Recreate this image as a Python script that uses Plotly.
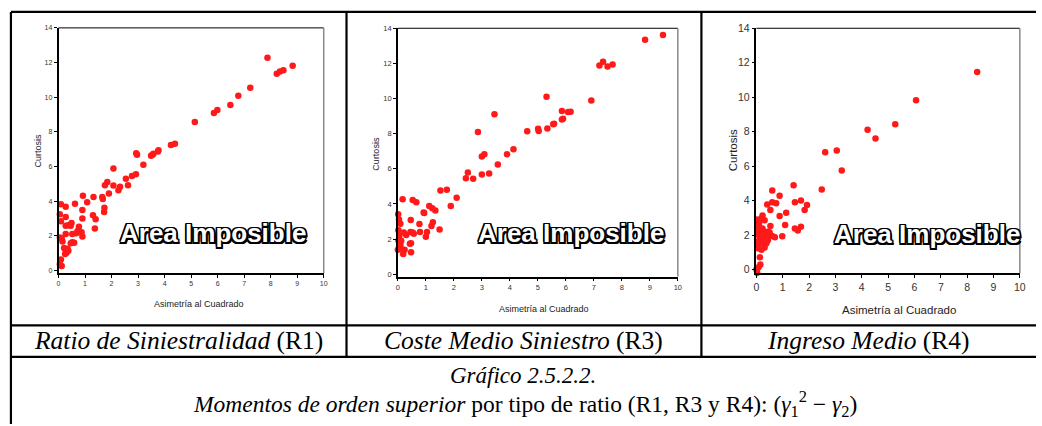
import plotly.graph_objects as go

# ---------------- data ----------------
r1_x = [7.88, 8.23, 8.35, 8.48, 8.83, 7.23, 6.78, 6.48, 5.99, 5.86, 5.14, 4.39, 4.24, 3.75, 3.77,
        3.58, 3.49, 3.54, 2.93, 2.96, 3.20, 2.92, 2.77, 2.54, 2.62, 2.07, 2.07, 2.32, 2.26, 1.90,
        1.84, 1.75, 1.65, 1.67, 1.73, 1.72, 1.32, 1.08, 0.92, 0.90, 1.30, 1.40, 1.37, 0.90, 0.87,
        0.90, 0.62, 0.27, 0.09, 0.05, 0.09, 0.27, 0.27, 0.37, 0.49, 0.46, 0.77, 0.72, 0.67, 0.52,
        0.27, 0.05, 0.12, 0.15, 0.52, 0.59, 0.46, 0.21, 0.27, 0.37, 0.25, 0.30, 0.34, 0.09, 0.12,
        0.05]
r1_y = [12.28, 11.36, 11.49, 11.55, 11.81, 10.55, 10.08, 9.55, 9.26, 9.09, 8.57, 7.32, 7.25, 6.87, 6.94,
        6.74, 6.62, 6.68, 6.77, 6.68, 6.11, 5.55, 5.45, 5.30, 4.92, 5.89, 4.91, 4.83, 4.64, 4.45,
        5.11, 4.92, 4.25, 4.13, 3.62, 3.38, 4.25, 3.94, 4.32, 3.49, 3.19, 2.96, 2.43, 3.00, 2.21,
        1.96, 3.85, 3.68, 3.83, 3.25, 2.85, 3.09, 2.58, 2.62, 2.74, 2.58, 2.53, 2.28, 2.15, 2.11,
        2.11, 1.91, 1.87, 1.68, 1.64, 1.60, 1.58, 1.30, 1.21, 1.15, 0.96, 1.02, 1.26, 0.64, 0.26,
        0.36]

r3_x = [9.47, 8.83, 7.67, 7.49, 7.33, 7.20, 6.91, 6.17, 6.08, 5.86, 5.90, 5.86, 5.58, 5.55, 5.31,
        5.34, 5.01, 5.03, 4.62, 4.13, 3.90, 3.45, 2.86, 3.09, 3.00, 3.57, 3.26, 3.00, 2.50, 2.43,
        2.69, 2.10, 1.75, 1.52, 1.89, 1.49, 1.34, 1.23, 1.12, 1.25, 1.20, 0.92, 0.94, 0.77, 0.79,
        1.04, 1.00, 0.66, 0.53, 0.17, 0.46, 0.45, 0.53, 0.57, 0.47, 0.43, 0.47, 0.30, 0.21, 0.09,
        0.02, 0.01, 0.04, 0.02, 0.06, 0.00, 0.12, 0.19, 0.24, 0.09, 0.12, 0.05]
r3_y = [13.61, 13.35, 11.94, 11.82, 12.10, 11.88, 9.89, 9.25, 9.23, 9.29, 8.85, 8.81, 8.57, 8.53, 10.10,
        8.30, 8.28, 8.15, 8.14, 7.11, 6.83, 9.10, 8.09, 6.83, 6.70, 6.25, 5.73, 5.67, 5.79, 5.46,
        5.43, 4.36, 4.81, 4.77, 3.88, 2.55, 3.63, 3.76, 3.89, 2.96, 2.74, 3.52, 3.48, 2.86, 2.41,
        2.41, 2.13, 4.10, 4.23, 4.27, 3.09, 2.41, 2.37, 2.30, 1.77, 1.73, 1.25, 2.24, 2.37, 2.87,
        2.51, 3.42, 3.11, 1.92, 1.81, 1.40, 1.44, 1.15, 1.40, 1.68, 1.90, 2.18]

r4_x = [8.38, 6.06, 5.27, 4.22, 4.52, 3.05, 2.61, 3.24, 2.48, 1.41, 1.46, 1.69, 1.92, 1.83, 1.69,
        1.57, 1.46, 1.13, 1.09, 0.98, 0.88, 0.75, 0.60, 0.60, 0.41, 0.53, 0.88, 0.53, 0.60, 0.70,
        0.23, 0.19, 0.31, 0.03, 0.10, 0.03, 0.08, 0.13, 0.05, 0.08, 0.19, 0.31, 0.38, 0.44, 0.40,
        0.31, 0.23, 0.25, 0.19, 0.28, 0.15, 0.13, 0.15, 0.08, 0.03, 0.00, 0.34, 0.44, 0.50, 0.06,
        0.04, 0.10]
r4_y = [11.46, 9.83, 8.44, 8.12, 7.61, 6.91, 6.81, 5.75, 4.65, 4.90, 3.91, 4.02, 3.76, 3.47, 2.49,
        2.28, 2.39, 3.30, 2.60, 1.94, 4.29, 3.85, 4.59, 3.91, 3.78, 3.47, 3.11, 2.54, 1.95, 1.88,
        3.15, 2.96, 2.87, 2.91, 2.68, 2.20, 2.01, 1.82, 1.63, 1.44, 1.16, 1.29, 1.54, 1.73, 2.01,
        2.20, 2.39, 2.01, 1.73, 1.54, 2.33, 0.72, 0.30, 0.15, -0.17, 0.02, 1.84, 2.20, 2.16, 1.25,
        2.49, 1.63]

x_ticks = [0, 1, 2, 3, 4, 5, 6, 7, 8, 9, 10]
y_ticks = [0, 2, 4, 6, 8, 10, 12, 14]
x_title = "Asimetría al Cuadrado"
y_title = "Curtosis"
area_label = "Area Imposible"
captions = ["<i>Ratio de Siniestralidad</i> (R1)",
            "<i>Coste Medio Siniestro</i> (R3)",
            "<i>Ingreso Medio</i> (R4)"]
fig_title = "<i>Gráfico 2.5.2.2.</i>"
fig_subtitle = ("<i>Momentos de orden superior</i> por tipo de ratio (R1, R3 y R4): "
                "(<i>γ</i><sub>1</sub><sup>2</sup> − <i>γ</i><sub>2</sub>)")

# ---------------- layout geometry (pixels) ----------------
W, H = 1042, 426
def fx(px): return px / W
def fy(py): return 1 - py / H

panels = [
    dict(x=r1_x, y=r1_y, l=56, r=323.5, t=22.3, b=272.3, ymin=-0.15, tick=7, ttl=9,
         ytx=35, yty=147.5, xtx=198, xty=304, area=(212, 231)),
    dict(x=r3_x, y=r3_y, l=398.3, r=680.7, t=22.7, b=275.7, ymin=-0.13, tick=7.5, ttl=9,
         ytx=376.7, yty=150, xtx=546, xty=309, area=(573, 231)),
    dict(x=r4_x, y=r4_y, l=760, r=1025.7, t=22.7, b=272.3, ymin=-0.2, tick=10.5, ttl=11.5,
         ytx=736, yty=147.5, xtx=904, xty=310, area=(932, 232)),
]

SANS = "Liberation Sans, Arial, sans-serif"
SERIF = "Liberation Serif, Times New Roman, serif"

fig = go.Figure()
annotations = []
shapes = []

outline = ", ".join(f"{dx}px {dy}px 0 #000" for dx, dy in
                    [(-1.5, -1.5), (1.5, -1.5), (-1.5, 1.5), (1.5, 1.5),
                     (0, 1.5), (0, -1.5), (1.5, 0), (-1.5, 0), (2, 2)])

for i, p in enumerate(panels, start=1):
    sfx = "" if i == 1 else str(i)
    fig.add_trace(go.Scatter(
        x=p["x"], y=p["y"], mode="markers", xaxis="x" + sfx, yaxis="y" + sfx,
        marker=dict(size=6.5, color="rgb(255,25,25)", line=dict(width=0)),
        cliponaxis=False, showlegend=False, hoverinfo="skip"))
    common = dict(showgrid=False, zeroline=False, showline=True, linecolor="black",
                  linewidth=1.5, ticks="outside", ticklen=3, tickwidth=1, tickcolor="black",
                  tickfont=dict(family=SANS, size=p["tick"], color="#333"))
    fig.layout["xaxis" + sfx] = dict(
        common, domain=[fx(p["l"]), fx(p["r"])], range=[0, 10], tickvals=x_ticks,
        anchor="y" + sfx)
    fig.layout["yaxis" + sfx] = dict(
        common, domain=[fy(p["b"]), fy(p["t"])], range=[p["ymin"], 14], tickvals=y_ticks,
        anchor="x" + sfx)
    # top (black) and right (gray) frame lines
    shapes.append(dict(type="line", xref=f"x{sfx} domain", yref=f"y{sfx} domain",
                       x0=0, x1=1, y0=1, y1=1, line=dict(color="black", width=1)))
    shapes.append(dict(type="line", xref=f"x{sfx} domain", yref=f"y{sfx} domain",
                       x0=1, x1=1, y0=0, y1=1, line=dict(color="#888", width=1.5)))
    annotations.append(dict(text=y_title, x=fx(p["ytx"]), y=fy(p["yty"]), xref="paper",
                            yref="paper", showarrow=False, textangle=-90,
                            xanchor="center", yanchor="middle",
                            font=dict(family=SANS, size=p["ttl"], color="#222")))
    annotations.append(dict(text=x_title, x=fx(p["xtx"]), y=fy(p["xty"]), xref="paper",
                            yref="paper", showarrow=False, xanchor="center", yanchor="middle",
                            font=dict(family=SANS, size=p["ttl"], color="#222")))
    annotations.append(dict(text="<b>" + area_label + "</b>", x=fx(p["area"][0]),
                            y=fy(p["area"][1]), xref="paper", yref="paper", showarrow=False,
                            xanchor="center", yanchor="middle",
                            font=dict(family=SANS, size=26, color="white", shadow=outline)))

# caption row
cell_centres = [177, 525.5, 873]
for txt, cx in zip(captions, cell_centres):
    annotations.append(dict(text=txt, x=fx(cx), y=fy(341), xref="paper", yref="paper",
                            showarrow=False, xanchor="center", yanchor="middle",
                            font=dict(family=SERIF, size=25.5, color="black")))
annotations.append(dict(text=fig_title, x=fx(525), y=fy(377), xref="paper", yref="paper",
                        showarrow=False, xanchor="center", yanchor="middle",
                        font=dict(family=SERIF, size=23, color="black")))
annotations.append(dict(text=fig_subtitle, x=fx(527), y=fy(406), xref="paper", yref="paper",
                        showarrow=False, xanchor="center", yanchor="middle",
                        font=dict(family=SERIF, size=23.5, color="black")))

# table borders
tbl = dict(color="black", width=2.2)
for (x0, y0, x1, y1) in [(8, 6, 8, 426), (8, 6, 1042, 6), (8, 325.5, 1042, 325.5),
                         (8, 357.5, 1042, 357.5), (346.5, 6, 346.5, 357.5),
                         (704.5, 6, 704.5, 357.5)]:
    shapes.append(dict(type="line", xref="paper", yref="paper", x0=fx(x0), x1=fx(x1),
                       y0=fy(y0), y1=fy(y1), line=tbl))

fig.update_layout(width=W, height=H, margin=dict(l=0, r=0, t=0, b=0),
                  paper_bgcolor="white", plot_bgcolor="white",
                  annotations=annotations, shapes=shapes)

fig.write_html("out.html")
